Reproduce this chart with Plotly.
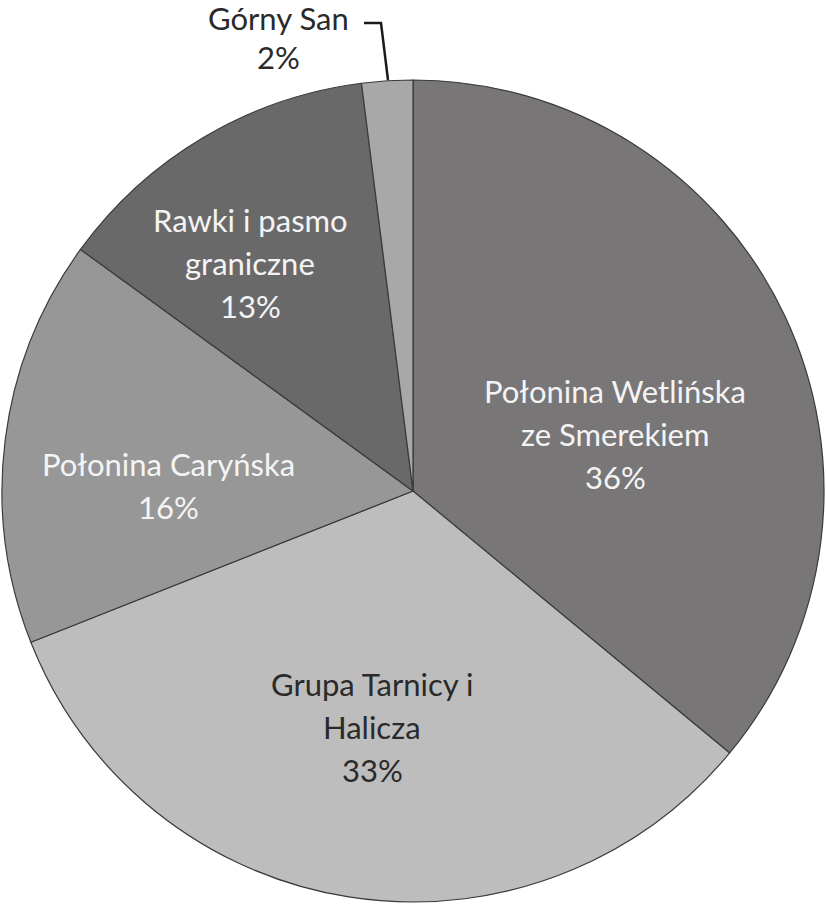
import plotly.graph_objects as go

# Udział pasm w Bieszczadach (kolejność zgodnie z ruchem wskazówek zegara od godz. 12)
regions = [
    "Połonina Wetlińska ze Smerekiem",
    "Grupa Tarnicy i Halicza",
    "Połonina Caryńska",
    "Rawki i pasmo graniczne",
    "Górny San",
]
shares = [36, 33, 16, 13, 2]
label_lines = [
    ["Połonina Wetlińska", "ze Smerekiem"],
    ["Grupa Tarnicy i", "Halicza"],
    ["Połonina Caryńska"],
    ["Rawki i pasmo", "graniczne"],
    ["Górny San"],
]

slice_colors = ["#787677", "#bdbdbd", "#979797", "#6a696a", "#a8a8a8"]
text_colors = ["#f4f4f4", "#2a2a2a", "#f4f4f4", "#f4f4f4", "#2a2a2a"]
# label anchor: x centre, y of first line, line step (pixels)
label_pos = [(615, 391, 43), (372, 684, 43), (168, 464, 43), (250, 220, 43), (278, 18, 39)]

W, H = 826, 904

fig = go.Figure(
    go.Pie(
        labels=regions,
        values=shares,
        sort=False,
        direction="clockwise",
        rotation=0,
        textinfo="none",
        hoverinfo="label+percent",
        marker=dict(colors=slice_colors, line=dict(color="#3a3a3a", width=1.2)),
        domain=dict(x=[0, 1], y=[2 / H, 824 / H]),
    )
)

total = sum(shares)
for lines, val, tc, (lx, ly, step) in zip(label_lines, shares, text_colors, label_pos):
    rows = lines + [f"{round(100 * val / total)}%"]
    for i, row in enumerate(rows):
        fig.add_annotation(
            x=lx / W, y=1 - (ly + i * step) / H, xref="paper", yref="paper",
            text=row, showarrow=False, xanchor="center", yanchor="middle",
            font=dict(family="Lato", size=31, color=tc),
        )

# linia odniesienia dla "Górny San"
fig.add_shape(
    type="path", xref="paper", yref="paper",
    path=f"M {364/W} {1-23/H} L {381/W} {1-23/H} L {388/W} {1-80/H}",
    line=dict(color="#1a1a1a", width=2.5),
)

fig.update_layout(
    width=W, height=H,
    margin=dict(l=0, r=0, t=0, b=0),
    showlegend=False,
    paper_bgcolor="white",
)

fig.write_html(
    "out.html",
    config={"displayModeBar": False},
    post_script="document.body.style.margin='0px';",
)
